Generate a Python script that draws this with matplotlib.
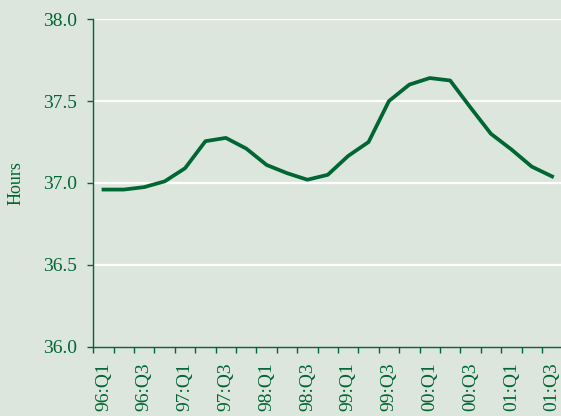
import numpy as np
import matplotlib.pyplot as plt

# trimestres 96:Q1 .. 01:Q3
trimestres = ['96:Q1', '96:Q2', '96:Q3', '96:Q4', '97:Q1', '97:Q2', '97:Q3', '97:Q4',
              '98:Q1', '98:Q2', '98:Q3', '98:Q4', '99:Q1', '99:Q2', '99:Q3', '99:Q4',
              '00:Q1', '00:Q2', '00:Q3', '00:Q4', '01:Q1', '01:Q2', '01:Q3']
horas = [36.96, 36.96, 36.975, 37.01, 37.09, 37.255, 37.275, 37.21,
         37.11, 37.06, 37.02, 37.05, 37.165, 37.25, 37.50, 37.60,
         37.64, 37.625, 37.46, 37.30, 37.205, 37.10, 37.04]
y_ticks = [36.0, 36.5, 37.0, 37.5, 38.0]

fundo = '#dde6dd'
verde = '#006633'

plt.rcParams['font.family'] = ['Liberation Serif', 'DejaVu Serif']

fig = plt.figure(figsize=(5.61, 4.16), dpi=100, facecolor=fundo)
ax = fig.add_axes([0.1663, 0.1659, 0.836, 0.7884], facecolor=fundo)

x = np.arange(len(horas))
ax.plot(x, horas, color=verde, lw=2.7, zorder=3)

ax.set_ylim(36.0, 38.0)
ax.set_xlim(-0.5, len(horas) - 0.5)
ax.set_yticks(y_ticks)
ax.set_yticklabels([f'{v:.1f}' for v in y_ticks], fontsize=14, color=verde)
for v in y_ticks[1:]:
    ax.axhline(v, color='white', lw=1.6, zorder=1)

ax.set_xticks(x[::2])
ax.set_xticklabels(trimestres[::2], rotation=90, fontsize=14, color=verde)
ax.set_xticks(np.arange(-0.5, len(horas), 1), minor=True)
ax.tick_params(axis='x', which='major', length=0, pad=11)
ax.tick_params(axis='x', which='minor', length=4, color=verde, width=1)
ax.tick_params(axis='y', length=4, color=verde, width=1, pad=8)

for s in ['top', 'right']:
    ax.spines[s].set_visible(False)
for s in ['left', 'bottom']:
    ax.spines[s].set_color(verde)
    ax.spines[s].set_linewidth(1)

ax.set_ylabel('Hours', fontsize=13, color=verde)
ax.yaxis.set_label_coords(-0.146, 0.5)

plt.savefig('out.png', dpi=100, facecolor=fundo)
